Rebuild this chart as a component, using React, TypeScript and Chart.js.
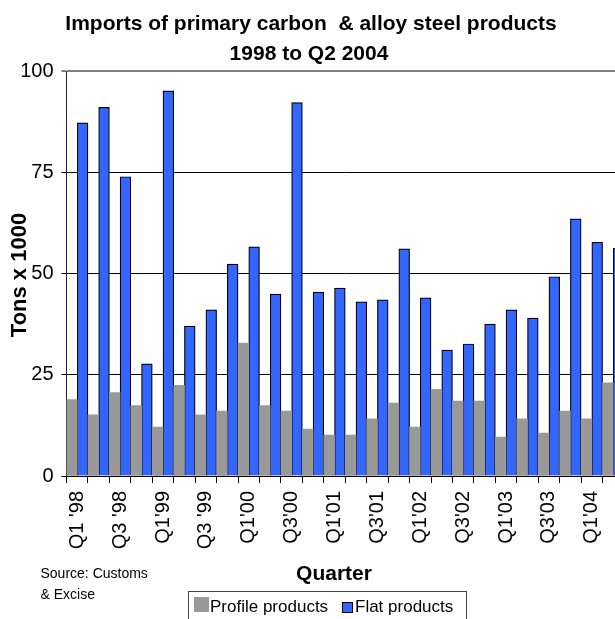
import React, { useEffect, useRef } from "react";
import { Chart, registerables } from "chart.js";

Chart.register(...registerables);

const TITLE_LINE_1 = "Imports of primary carbon  & alloy steel products";
const TITLE_LINE_2 = "1998 to Q2 2004";
const Y_TITLE = "Tons x 1000";
const X_TITLE = "Quarter";
const SOURCE_LINES = ["Source: Customs", "& Excise"];

const QUARTERS = [
  "Q1 '98", "Q2 '98", "Q3 '98", "Q4 '98",
  "Q1'99", "Q2'99", "Q3 '99", "Q4'99",
  "Q1'00", "Q2'00", "Q3'00", "Q4'00",
  "Q1'01", "Q2'01", "Q3'01", "Q4'01",
  "Q1'02", "Q2'02", "Q3'02", "Q4'02",
  "Q1'03", "Q2'03", "Q3'03", "Q4'03",
  "Q1'04", "Q2'04",
];

const TICK_LABELS = [
  "Q1 '98", "Q3 '98", "Q1'99", "Q3 '99", "Q1'00", "Q3'00", "Q1'01",
  "Q3'01", "Q1'02", "Q3'02", "Q1'03", "Q3'03", "Q1'04",
];

const PROFILE_PRODUCTS = [
  18.9, 15.1, 20.6, 17.4, 12.1, 22.4, 15.1, 16.0, 32.8, 17.4, 16.0, 11.6, 10.1,
  10.1, 14.1, 18.0, 12.1, 21.4, 18.5, 18.5, 9.6, 14.1, 10.6, 16.0, 14.1, 23.0,
];

const FLAT_PRODUCTS = [
  87.2, 91.0, 73.9, 27.7, 95.1, 37.0, 41.0, 52.3, 56.6, 44.9, 92.2, 45.4, 46.4,
  43.0, 43.5, 56.1, 44.0, 31.1, 32.6, 37.5, 41.0, 39.0, 49.2, 63.5, 57.7, 56.2,
];

const SERIES_NAMES = ["Profile products", "Flat products"];
const SERIES_COLORS = ["#999999", "#3366FF"];

const Y_TICKS = [0, 25, 50, 75, 100];

const FONT = "'Liberation Sans', Arial, Helvetica, sans-serif";

const textPlugin = {
  id: "annotTexts",
  afterDraw(chart: any) {
    const ctx = chart.ctx as CanvasRenderingContext2D;
    ctx.save();
    ctx.fillStyle = "#000";
    // Title
    ctx.font = `bold 21px ${FONT}`;
    ctx.textAlign = "center";
    ctx.textBaseline = "alphabetic";
    ctx.fillText(TITLE_LINE_1, 311, 29.5);
    ctx.fillText(TITLE_LINE_2, 309, 60);
    // X title
    ctx.fillText(X_TITLE, 334, 580);
    // Y title
    ctx.save();
    ctx.translate(19.5, 275);
    ctx.rotate(-Math.PI / 2);
    ctx.font = `bold 22px ${FONT}`;
    ctx.textBaseline = "middle";
    ctx.fillText(Y_TITLE, 0, 0);
    ctx.restore();
    // Source
    ctx.font = `14px ${FONT}`;
    ctx.textAlign = "left";
    ctx.fillText(SOURCE_LINES[0], 40.5, 577.5);
    ctx.fillText(SOURCE_LINES[1], 40.5, 598.5);
    // Legend
    const ds = chart.data.datasets;
    ctx.strokeStyle = "#444";
    ctx.lineWidth = 1;
    ctx.strokeRect(188.5, 591.5, 278, 40);
    ctx.fillStyle = ds[0].backgroundColor;
    ctx.fillRect(194, 597, 15, 15);
    ctx.fillStyle = "#000";
    ctx.font = `17px ${FONT}`;
    ctx.fillText(ds[0].label, 210, 611.5);
    ctx.fillStyle = ds[1].backgroundColor;
    ctx.fillRect(342, 602, 11, 11);
    ctx.strokeStyle = "#000";
    ctx.strokeRect(342.5, 602.5, 10, 10);
    ctx.fillStyle = "#000";
    ctx.fillText(ds[1].label, 355, 611.5);
    ctx.restore();
  },
};

export default function App() {
  const canvasRef = useRef<HTMLCanvasElement | null>(null);

  useEffect(() => {
    const canvas = canvasRef.current;
    if (!canvas) return;
    const chart = new Chart(canvas, {
      type: "bar",
      data: {
        labels: QUARTERS,
        datasets: [
          {
            label: SERIES_NAMES[0],
            data: PROFILE_PRODUCTS,
            backgroundColor: SERIES_COLORS[0],
            borderWidth: 0,
            categoryPercentage: 1,
            barPercentage: 1,
          },
          {
            label: SERIES_NAMES[1],
            data: FLAT_PRODUCTS,
            backgroundColor: SERIES_COLORS[1],
            borderColor: "#000",
            borderWidth: 1.2,
            categoryPercentage: 1,
            barPercentage: 1,
          },
        ],
      },
      options: {
        responsive: false,
        animation: false,
        layout: { padding: { top: 71, left: 0, right: 0, bottom: 0 } },
        plugins: {
          legend: { display: false },
          title: { display: false },
          tooltip: { enabled: false },
        },
        scales: {
          x: {
            offset: true,
            afterFit: (scale: any) => {
              scale.height = 143;
              scale.paddingLeft = 0;
              scale.paddingRight = 0;
            },
            border: { display: true, color: "#000", width: 1 },
            grid: {
              offset: true,
              drawOnChartArea: false,
              drawTicks: true,
              tickLength: 7,
              color: "#000",
              tickColor: "#000",
            },
            ticks: {
              autoSkip: false,
              minRotation: 90,
              maxRotation: 90,
              padding: 8,
              color: "#000",
              font: { family: FONT, size: 20 },
              callback: (_v: any, i: number) =>
                i % 2 === 0 ? TICK_LABELS[i / 2] : "",
            },
          },
          y: {
            min: 0,
            max: 100,
            afterFit: (scale: any) => {
              scale.width = 66.5;
              scale.paddingTop = 0;
              scale.paddingBottom = 0;
            },
            afterBuildTicks: (scale: any) => {
              scale.ticks = Y_TICKS.map((v) => ({ value: v }));
            },
            border: { display: true, color: "#222", width: 1 },
            grid: {
              drawTicks: true,
              tickLength: 5,
              color: (c: any) => (c.tick && c.tick.value === 100 ? "#808080" : "#000"),
              lineWidth: (c: any) => (c.tick && c.tick.value === 100 ? 2 : 1),
              tickColor: "#000",
              tickWidth: 1,
            },
            ticks: {
              padding: 8,
              color: "#000",
              font: { family: FONT, size: 20 },
            },
          },
        },
      },
      plugins: [textPlugin],
    });
    return () => chart.destroy();
  }, []);

  return (
    <div
      style={{
        position: "fixed",
        left: 0,
        top: 0,
        width: 615,
        height: 619,
        overflow: "hidden",
        background: "#fff",
      }}
    >
      <canvas
        ref={canvasRef}
        width={624}
        height={619}
        style={{ display: "block", width: 624, height: 619 }}
      />
    </div>
  );
}
